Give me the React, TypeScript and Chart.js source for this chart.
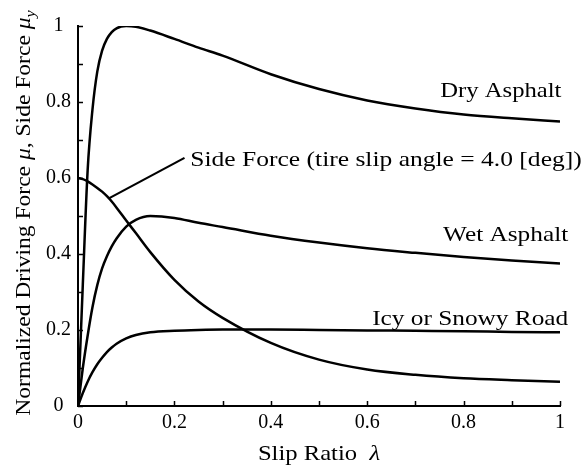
import React, { useEffect, useRef } from 'react';
import { Chart, registerables } from 'chart.js';

Chart.register(...registerables);

// ---- data ----
const slipRatio = [0, 0.01, 0.02, 0.03, 0.04, 0.05, 0.06, 0.07, 0.08, 0.1, 0.12, 0.15, 0.2, 0.25, 0.3, 0.4, 0.5, 0.6, 0.7, 0.8, 0.9, 1.0];
const dryAsphalt = [0, 0.32, 0.62, 0.78, 0.88, 0.935, 0.966, 0.984, 0.994, 1.0, 0.998, 0.988, 0.966, 0.943, 0.922, 0.873, 0.834, 0.804, 0.783, 0.767, 0.757, 0.749];
const wetAsphalt = [0, 0.1, 0.185, 0.26, 0.318, 0.362, 0.394, 0.42, 0.441, 0.472, 0.49, 0.5, 0.495, 0.482, 0.471, 0.448, 0.43, 0.415, 0.403, 0.392, 0.383, 0.375];
const icyRoad = [0, 0.034, 0.064, 0.089, 0.11, 0.127, 0.142, 0.154, 0.164, 0.178, 0.187, 0.194, 0.198, 0.2, 0.201, 0.201, 0.2, 0.199, 0.198, 0.197, 0.195, 0.194];
const sideForce = [0.6, 0.597, 0.591, 0.583, 0.574, 0.564, 0.552, 0.538, 0.522, 0.488, 0.455, 0.405, 0.332, 0.275, 0.232, 0.166, 0.122, 0.096, 0.082, 0.073, 0.068, 0.064];
const leaderX = [0.065, 0.221];
const leaderY = [0.547, 0.653];
const tickLabels = ['0', '0.2', '0.4', '0.6', '0.8', '1'];

type Seg = { t: string; italic?: boolean; sub?: boolean };

const curveLabelTexts = ['Dry Asphalt', 'Wet Asphalt', 'Icy or Snowy Road', 'Side Force (tire slip angle = 4.0 [deg])'];
const curveLabelAnchors = [
  { x: 1.003, y: 0.813, align: 'right', sx: 1.12 },
  { x: 1.017, y: 0.435, align: 'right', sx: 1.15 },
  { x: 1.017, y: 0.213, align: 'right', sx: 1.15 },
  { x: 0.233, y: 0.632, align: 'left', sx: 1.16 },
];
const xTitle: Seg[] = [{ t: 'Slip Ratio  ' }, { t: 'λ', italic: true }];
const yTitle: Seg[] = [
  { t: 'Normalized Driving Force ' },
  { t: 'μ', italic: true },
  { t: ', Side Force ' },
  { t: 'μ', italic: true },
  { t: 'y', italic: true, sub: true },
];

const FAMILY = '"Liberation Serif", "Times New Roman", serif';

function fontFor(s: Seg, size: number) {
  return `${s.italic ? 'italic ' : ''}${s.sub ? Math.round(size * 0.7) : size}px ${FAMILY}`;
}

function drawRich(ctx: CanvasRenderingContext2D, segs: Seg[], x: number, y: number, align: string, size: number, sx: number) {
  let w = 0;
  const widths = segs.map((s) => {
    ctx.font = fontFor(s, size);
    const m = ctx.measureText(s.t).width;
    w += m;
    return m;
  });
  const start = align === 'left' ? 0 : align === 'center' ? -w / 2 : -w;
  ctx.save();
  ctx.translate(x, y);
  ctx.scale(sx, 1);
  ctx.textAlign = 'left';
  ctx.textBaseline = 'alphabetic';
  ctx.fillStyle = '#000';
  let cx = start;
  segs.forEach((s, i) => {
    ctx.font = fontFor(s, size);
    ctx.fillText(s.t, cx, s.sub ? size * 0.22 : 0);
    cx += widths[i];
  });
  ctx.restore();
}

const decorPlugin = {
  id: 'decor',
  afterDraw(chart: any) {
    const ctx: CanvasRenderingContext2D = chart.ctx;
    const xs = chart.scales.x;
    const ys = chart.scales.y;
    const area = chart.chartArea;
    ctx.save();
    // inward ticks
    ctx.strokeStyle = '#000';
    ctx.lineWidth = 1.5;
    ctx.beginPath();
    xs.ticks.forEach((t: any) => {
      const px = Math.round(xs.getPixelForValue(t.value)) + 0.5;
      ctx.moveTo(px, area.bottom);
      ctx.lineTo(px, area.bottom - 5);
    });
    ys.ticks.forEach((t: any) => {
      const py = Math.round(ys.getPixelForValue(t.value)) + 0.5;
      ctx.moveTo(area.left, py);
      ctx.lineTo(area.left + 5, py);
    });
    ctx.stroke();
    // curve labels
    curveLabelTexts.forEach((txt, i) => {
      const a = curveLabelAnchors[i];
      drawRich(ctx, [{ t: txt }], xs.getPixelForValue(a.x), ys.getPixelForValue(a.y), a.align, 22, a.sx);
    });
    // x title
    drawRich(ctx, xTitle, (area.left + area.right) / 2, 460, 'center', 22, 1.12);
    // y title
    ctx.save();
    ctx.translate(30, (area.top + area.bottom) / 2 - 3);
    ctx.rotate(-Math.PI / 2);
    drawRich(ctx, yTitle, 0, 0, 'center', 22, 1.07);
    ctx.restore();
    ctx.restore();
  },
};

function toPoints(xv: number[], yv: number[]) {
  return xv.map((x, i) => ({ x, y: yv[i] }));
}

export default function App() {
  const ref = useRef<HTMLCanvasElement>(null);
  useEffect(() => {
    if (!ref.current) return;
    const curve = (label: string, data: number[]) => ({
      label,
      data: toPoints(slipRatio, data),
      borderColor: '#000',
      borderWidth: 2.5,
      pointRadius: 0,
      fill: false,
      cubicInterpolationMode: 'monotone' as const,
    });
    const chart = new Chart(ref.current, {
      type: 'line',
      data: {
        datasets: [
          curve('Dry Asphalt', dryAsphalt),
          curve('Wet Asphalt', wetAsphalt),
          curve('Icy or Snowy Road', icyRoad),
          curve('Side Force', sideForce),
          {
            label: 'leader',
            data: toPoints(leaderX, leaderY),
            borderColor: '#000',
            borderWidth: 2.2,
            pointRadius: 0,
            fill: false,
            tension: 0,
          },
        ],
      },
      options: {
        responsive: false,
        devicePixelRatio: 1,
        animation: false,
        layout: { padding: { top: 26, right: 21, left: 0, bottom: 0 } },
        plugins: { legend: { display: false }, tooltip: { enabled: false } },
        scales: {
          x: {
            type: 'linear',
            min: 0,
            max: 1,
            afterFit: (s: any) => { s.height = 60; },
            grid: { display: true, drawOnChartArea: false, drawTicks: false },
            border: { display: true, color: '#000', width: 2 },
            ticks: {
              stepSize: 0.1,
              autoSkip: false,
              maxRotation: 0,
              padding: 5,
              color: '#000',
              font: { family: FAMILY, size: 20 },
              callback: (_v: any, i: number) => (i % 2 === 0 ? tickLabels[i / 2] : ''),
            },
          },
          y: {
            type: 'linear',
            min: 0,
            max: 1,
            afterFit: (s: any) => { s.width = 78; },
            grid: { display: true, drawOnChartArea: false, drawTicks: false },
            border: { display: true, color: '#000', width: 2 },
            ticks: {
              stepSize: 0.1,
              autoSkip: false,
              padding: 7,
              crossAlign: 'center',
              color: '#000',
              font: { family: FAMILY, size: 20 },
              callback: (_v: any, i: number) => (i % 2 === 0 ? tickLabels[i / 2] : ''),
            },
          },
        },
      },
      plugins: [decorPlugin],
    });
    return () => chart.destroy();
  }, []);
  return (
    <div style={{ position: 'absolute', left: 0, top: 0, width: 581, height: 466, background: '#fff' }}>
      <canvas ref={ref} width={581} height={466} style={{ display: 'block' }} />
    </div>
  );
}
